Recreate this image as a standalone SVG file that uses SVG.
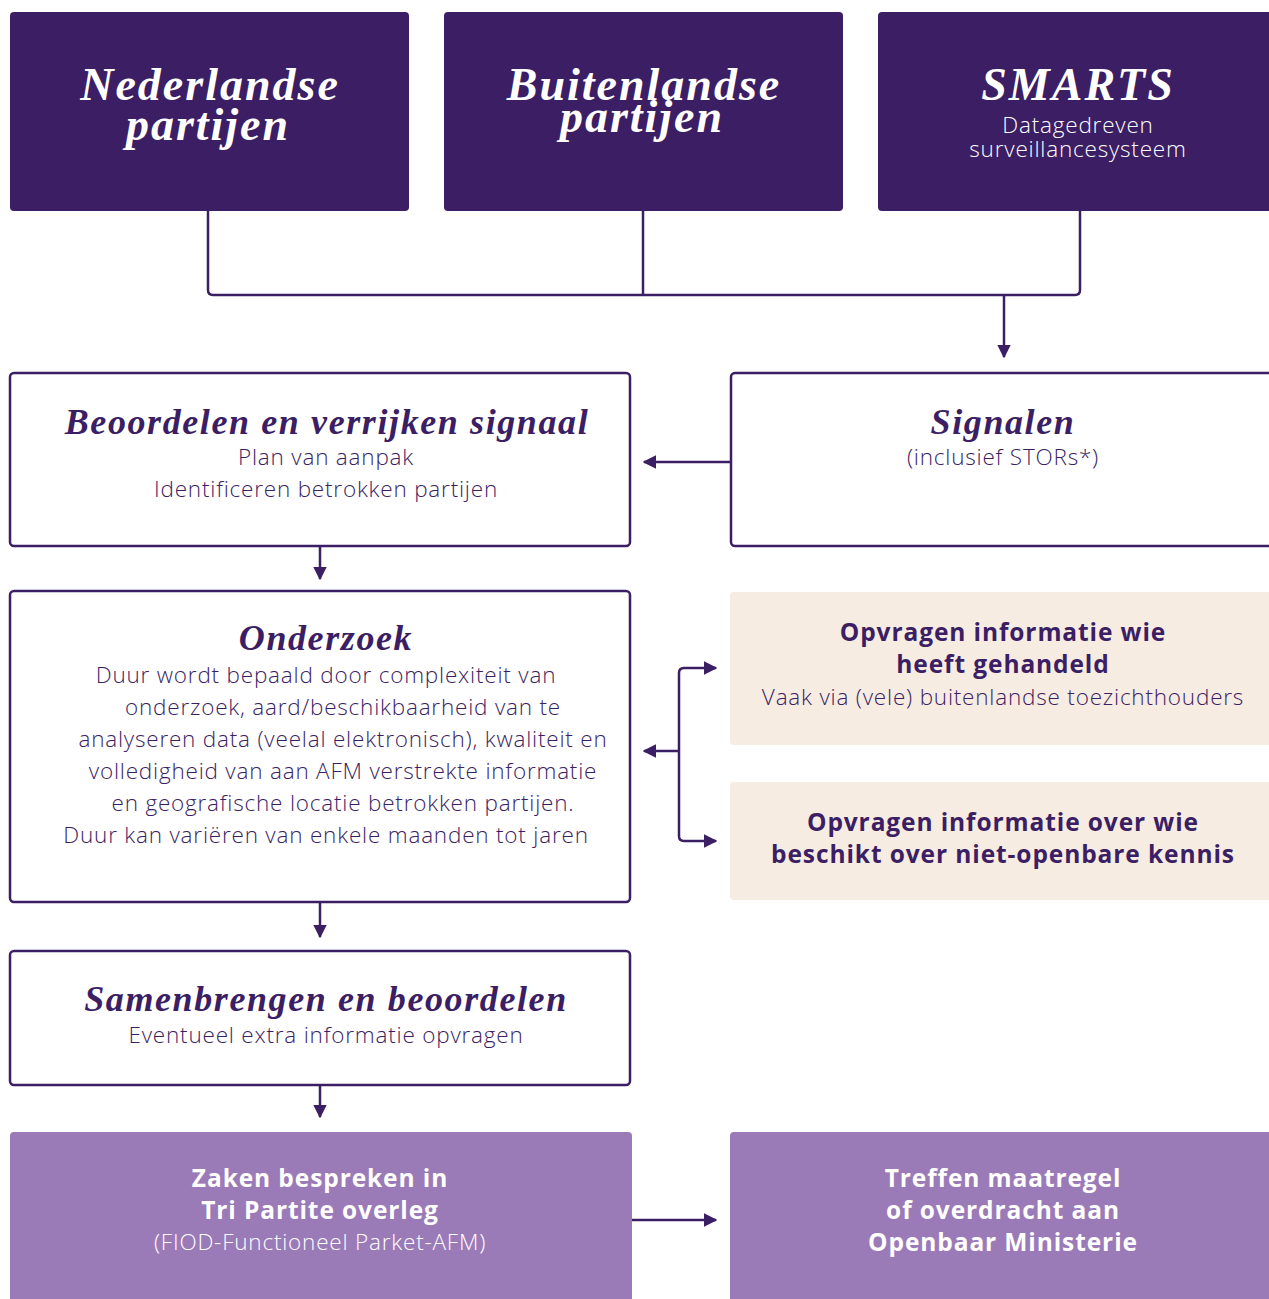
<svg xmlns="http://www.w3.org/2000/svg" width="1269" height="1299" viewBox="0 0 1269 1299">
<style>
.dark{fill:#3b1e63}
.out{fill:#fff;stroke:#3b1e63;stroke-width:2.5}
.beige{fill:#f7ece2}
.mid{fill:#9b7ab8}
.ttl{font-family:"Liberation Serif",serif;font-weight:bold;font-style:italic;text-anchor:middle}
.sans{font-family:"Open Sans","Liberation Sans",sans-serif;font-weight:300;font-size:22.5px;letter-spacing:0.8px;text-anchor:middle;font-variant-ligatures:none}
.b{font-weight:700;font-size:24.5px;letter-spacing:0.9px}
.w{fill:#fff}
.p{fill:#3b1e63}
.line{fill:none;stroke:#3b1e63;stroke-width:2.5}
</style>
<defs>
<marker id="ah" viewBox="0 0 10 10" refX="9" refY="5" markerWidth="5.5" markerHeight="5.5" orient="auto-start-reverse" markerUnits="strokeWidth">
<path d="M0,0 L10,5 L0,10 Z" fill="#3b1e63"/>
</marker>
</defs>
<g id="connectors">
<path class="line" d="M208,211 V290 Q208,295 213,295 H1075 Q1080,295 1080,290 V211"/>
<path class="line" d="M643,211 V295"/>
<path class="line" d="M1004,295 V357" marker-end="url(#ah)"/>
<path class="line" d="M730,462 H644" marker-end="url(#ah)"/>
<path class="line" d="M320,546 V579" marker-end="url(#ah)"/>
<path class="line" d="M716,668 H684 Q679,668 679,673 V836 Q679,841 684,841 H716" marker-start="url(#ah)" marker-end="url(#ah)"/>
<path class="line" d="M679,751 H644" marker-end="url(#ah)"/>
<path class="line" d="M320,902 V937" marker-end="url(#ah)"/>
<path class="line" d="M320,1085 V1117" marker-end="url(#ah)"/>
<path class="line" d="M632,1220 H716" marker-end="url(#ah)"/>
</g>
<g id="n1">
<rect class="dark" x="10" y="12" width="399" height="199" rx="4"/>
<text class="ttl w" x="210" y="100" font-size="46" letter-spacing="2">Nederlandse</text>
<text class="ttl w" x="208" y="140" font-size="46" letter-spacing="2">partijen</text>
</g>
<g id="n2">
<rect class="dark" x="444" y="12" width="399" height="199" rx="4"/>
<text class="ttl w" x="644" y="100" font-size="46" letter-spacing="2">Buitenlandse</text>
<text class="ttl w" x="642" y="132" font-size="46" letter-spacing="2">partijen</text>
</g>
<g id="n3">
<rect class="dark" x="878" y="12" width="400" height="199" rx="4"/>
<text class="ttl w" x="1078" y="100" font-size="46" letter-spacing="2">SMARTS</text>
<text class="sans w" x="1078" y="133">Datagedreven</text>
<text class="sans w" x="1078" y="157">surveillancesysteem</text>
</g>
<g id="n4">
<rect class="out" x="10" y="373" width="620" height="173" rx="4"/>
<text class="ttl p" x="327" y="434" font-size="36" letter-spacing="1.6">Beoordelen en verrijken signaal</text>
<text class="sans p" x="326" y="465">Plan van aanpak</text>
<text class="sans p" x="326" y="497">Identificeren betrokken partijen</text>
</g>
<g id="n5">
<rect class="out" x="731" y="373" width="545" height="173" rx="4"/>
<text class="ttl p" x="1003" y="434" font-size="36" letter-spacing="1.6">Signalen</text>
<text class="sans p" x="1003" y="465">(inclusief STORs*)</text>
</g>
<g id="n6">
<rect class="out" x="10" y="591" width="620" height="311" rx="4"/>
<text class="ttl p" x="326" y="650" font-size="36" letter-spacing="1.6">Onderzoek</text>
<g>
<text class="sans p" x="326" y="683">Duur wordt bepaald door complexiteit van</text>
<text class="sans p" x="343" y="715">onderzoek, aard/beschikbaarheid van te</text>
<text class="sans p" x="343" y="747">analyseren data (veelal elektronisch), kwaliteit en</text>
<text class="sans p" x="343" y="779">volledigheid van aan AFM verstrekte informatie</text>
<text class="sans p" x="343" y="811">en geografische locatie betrokken partijen.</text>
<text class="sans p" x="326" y="843">Duur kan variëren van enkele maanden tot jaren</text>
</g>
</g>
<g id="n7">
<rect class="beige" x="730" y="592" width="545" height="153" rx="4"/>
<text class="sans b p" x="1003" y="641">Opvragen informatie wie</text>
<text class="sans b p" x="1003" y="673">heeft gehandeld</text>
<text class="sans p" x="1003" y="705">Vaak via (vele) buitenlandse toezichthouders</text>
</g>
<g id="n8">
<rect class="beige" x="730" y="782" width="545" height="118" rx="4"/>
<text class="sans b p" x="1003" y="831">Opvragen informatie over wie</text>
<text class="sans b p" x="1003" y="863">beschikt over niet-openbare kennis</text>
</g>
<g id="n9">
<rect class="out" x="10" y="951" width="620" height="134" rx="4"/>
<text class="ttl p" x="326" y="1011" font-size="36" letter-spacing="1.6">Samenbrengen en beoordelen</text>
<text class="sans p" x="326" y="1043">Eventueel extra informatie opvragen</text>
</g>
<g id="n10">
<rect class="mid" x="10" y="1132" width="622" height="175" rx="4"/>
<text class="sans b w" x="320" y="1187">Zaken bespreken in</text>
<text class="sans b w" x="320" y="1219">Tri Partite overleg</text>
<text class="sans w" x="320" y="1250">(FIOD-Functioneel Parket-AFM)</text>
</g>
<g id="n11">
<rect class="mid" x="730" y="1132" width="545" height="175" rx="4"/>
<text class="sans b w" x="1003" y="1187">Treffen maatregel</text>
<text class="sans b w" x="1003" y="1219">of overdracht aan</text>
<text class="sans b w" x="1003" y="1251">Openbaar Ministerie</text>
</g>
</svg>
